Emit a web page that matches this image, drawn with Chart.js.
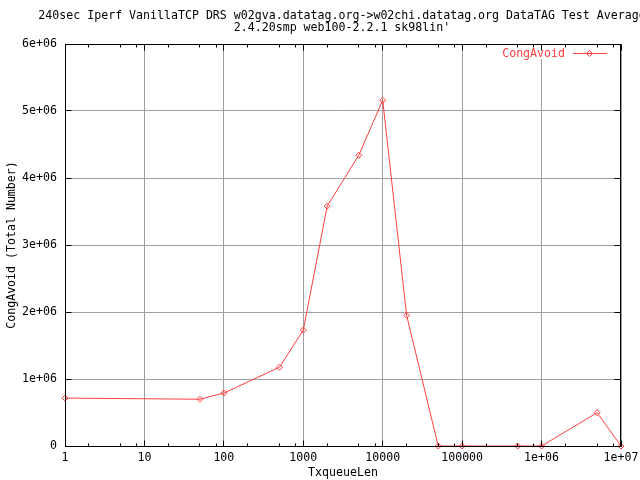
<!DOCTYPE html>
<html>
<head>
<meta charset="utf-8">
<script src="https://cdn.jsdelivr.net/npm/chart.js@4/dist/chart.umd.min.js"></script>
<style>
  html, body { margin: 0; padding: 0; background: #fff; }
  canvas { display: block; }
</style>
</head>
<body>
<canvas id="chart" width="640" height="480"></canvas>
<script>
// chart data
var titleLines = [
    '240sec Iperf VanillaTCP DRS w02gva.datatag.org->w02chi.datatag.org DataTAG Test Average',
    "2.4.20smp web100-2.2.1 sk98lin'"
];
var seriesName = 'CongAvoid';
var txqueueLen = [1, 50, 100, 500, 1000, 2000, 5000, 10000, 20000, 50000, 100000, 500000, 1000000, 5000000, 10000000];
var congAvoid = [715000, 698000, 790000, 1175000, 1730000, 3580000, 4340000, 5160000, 1950000, 0, 0, 0, 0, 497000, 0];

var xTickValues = [1, 10, 100, 1000, 10000, 100000, 1000000, 10000000];
var xTickLabels = ['1', '10', '100', '1000', '10000', '100000', '1e+06', '1e+07'];
var xMinorSteps = [2, 5, 8];
var yTickValues = [0, 1000000, 2000000, 3000000, 4000000, 5000000, 6000000];
var yTickLabels = ['0', '1e+06', '2e+06', '3e+06', '4e+06', '5e+06', '6e+06'];

var lineColor = '#ff4040';
var fontFamily = "'DejaVu Sans Mono', monospace";
var fontSize = 11.6;

Chart.defaults.font.family = fontFamily;
Chart.defaults.font.size = fontSize;
Chart.defaults.color = '#000';

var px = function (v) { return Math.floor(v) + 0.5; };

// gnuplot look: white page, full frame, inward ticks on all sides, key and title
var gnuplotFrame = {
    id: 'gnuplotFrame',
    beforeDraw: function (chart) {
        var ctx = chart.ctx;
        ctx.save();
        ctx.fillStyle = '#fff';
        ctx.fillRect(0, 0, chart.width, chart.height);
        ctx.restore();
    },
    afterDatasetsDraw: function (chart) {
        var ctx = chart.ctx;
        var a = chart.chartArea;
        var xs = chart.scales.x;
        var ys = chart.scales.y;
        var ds = chart.data.datasets[0];
        var ly = a.top + 9.5;

        ctx.save();
        // key
        ctx.fillStyle = '#fff';
        ctx.fillRect(a.right - 122, a.top + 1, 120, 14);
        ctx.font = fontSize + 'px ' + fontFamily;
        ctx.textAlign = 'right';
        ctx.textBaseline = 'middle';
        ctx.fillStyle = ds.borderColor;
        ctx.fillText(ds.label, a.right - 56, ly);
        ctx.strokeStyle = ds.borderColor;
        ctx.lineWidth = 1;
        ctx.beginPath();
        ctx.moveTo(a.right - 48, px(ly));
        ctx.lineTo(a.right - 14, px(ly));
        ctx.stroke();
        ctx.beginPath();
        var mx = a.right - 31.5, my = px(ly);
        ctx.moveTo(mx, my - 3);
        ctx.lineTo(mx + 3, my);
        ctx.lineTo(mx, my + 3);
        ctx.lineTo(mx - 3, my);
        ctx.closePath();
        ctx.stroke();

        // frame
        ctx.strokeStyle = '#000';
        var L = px(a.left), R = px(a.right - 1), T = px(a.top), B = px(a.bottom);
        ctx.strokeRect(L, T, R - L, B - T);

        // ticks
        ctx.beginPath();
        var tickX = function (v, len) {
            var x = px(xs.getPixelForValue(v));
            ctx.moveTo(x, B); ctx.lineTo(x, B - len);
            ctx.moveTo(x, T); ctx.lineTo(x, T + len);
        };
        xTickValues.forEach(function (v, i) {
            tickX(v, 6);
            if (i < xTickValues.length - 1) {
                xMinorSteps.forEach(function (m) { tickX(v * m, 3); });
            }
        });
        yTickValues.forEach(function (v) {
            var y = px(ys.getPixelForValue(v));
            ctx.moveTo(L, y); ctx.lineTo(L + 6, y);
            ctx.moveTo(R, y); ctx.lineTo(R - 6, y);
        });
        ctx.stroke();

        // title, centred on the plot
        ctx.fillStyle = '#000';
        ctx.textAlign = 'center';
        var cx = (a.left + a.right) / 2 - 1;
        ctx.fillText(titleLines[0], cx, 16);
        ctx.fillText(titleLines[1], cx, 28);
        ctx.restore();
    }
};

new Chart(document.getElementById('chart'), {
    type: 'scatter',
    data: {
        datasets: [{
            label: seriesName,
            data: txqueueLen.map(function (x, i) { return { x: x, y: congAvoid[i] }; }),
            showLine: true,
            borderColor: lineColor,
            borderWidth: 1,
            tension: 0,
            pointStyle: 'rectRot',
            pointRadius: 3,
            pointBorderWidth: 1,
            pointBorderColor: lineColor,
            pointBackgroundColor: 'rgba(0,0,0,0)',
            clip: false
        }]
    },
    options: {
        responsive: false,
        animation: false,
        layout: { padding: { top: 44, right: 19, left: 0, bottom: 0 } },
        plugins: {
            legend: { display: false },
            tooltip: { enabled: false },
            title: { display: false }
        },
        scales: {
            x: {
                type: 'logarithmic',
                min: 1,
                max: 10000000,
                afterBuildTicks: function (s) {
                    s.ticks = xTickValues.map(function (v) { return { value: v }; });
                },
                afterFit: function (s) {
                    s.height = 34;
                    s.paddingLeft = 0;
                    s.paddingRight = 0;
                },
                ticks: {
                    callback: function (v) { return xTickLabels[xTickValues.indexOf(v)]; },
                    maxRotation: 0,
                    autoSkip: false,
                    padding: 5,
                    color: '#000'
                },
                grid: { color: '#a0a0a0', drawTicks: false, lineWidth: 1 },
                border: { color: '#000' },
                title: {
                    display: true,
                    text: 'TxqueueLen',
                    color: '#000',
                    padding: { top: 6, bottom: 0 }
                }
            },
            y: {
                type: 'linear',
                min: 0,
                max: 6000000,
                afterBuildTicks: function (s) {
                    s.ticks = yTickValues.map(function (v) { return { value: v }; });
                },
                afterFit: function (s) {
                    s.width = 65;
                    s.paddingTop = 0;
                    s.paddingBottom = 0;
                },
                ticks: {
                    callback: function (v) { return yTickLabels[yTickValues.indexOf(v)]; },
                    padding: 8,
                    color: '#000'
                },
                grid: { color: '#a0a0a0', drawTicks: false, lineWidth: 1 },
                border: { color: '#000' },
                title: {
                    display: true,
                    text: 'CongAvoid (Total Number)',
                    color: '#000',
                    padding: { top: 5, bottom: 0 }
                }
            }
        }
    },
    plugins: [gnuplotFrame]
});
</script>
</body>
</html>
